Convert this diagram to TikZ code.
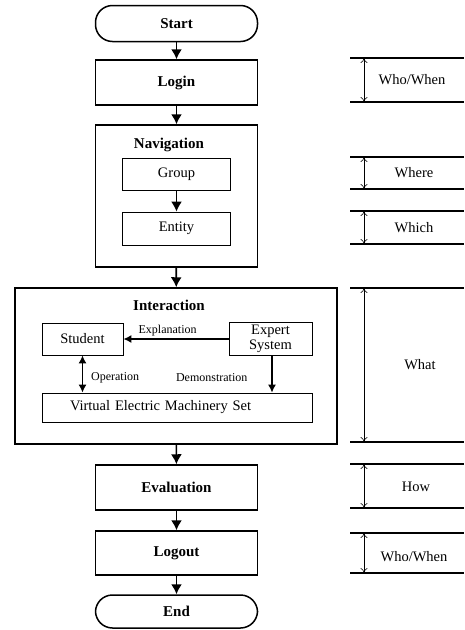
\documentclass[tikz,border=0pt]{standalone}
\usepackage{fontspec}
\setmainfont{Liberation Serif}
\usetikzlibrary{arrows.meta,positioning}
\tikzset{
  >={Latex[length=10pt,width=11pt]},
  bigfont/.style={font=\bfseries\fontsize{15}{17}\selectfont},
  terminal/.style={draw,line width=1.5pt,rounded corners=17pt,minimum width=162pt,minimum height=36pt,inner sep=0pt,bigfont},
  process/.style={draw,line width=1.5pt,minimum width=162pt,minimum height=45pt,inner sep=0pt,bigfont},
  frame/.style={draw,line width=1.5pt,inner sep=0pt},
  subbox/.style={draw,line width=0.9pt,inner sep=0pt,font=\fontsize{14.5}{15}\selectfont},
  caption/.style={bigfont},
  tag/.style={font=\fontsize{12}{14}\selectfont,inner sep=2pt},
  flow/.style={->,line width=1.6pt},
  link/.style={line width=1.2pt,>={Latex[length=8pt,width=8pt]}},
  rule/.style={line width=1.5pt},
  span/.style={line width=0.6pt,{To[length=5pt,width=7pt]}-{To[length=5pt,width=7pt]}},
  spantext/.style={font=\fontsize{14.5}{16}\selectfont},
}

\begin{document}
\begin{tikzpicture}[x=1pt,y=-1pt]
  \useasboundingbox (0,0) rectangle (464,630);

  \node[terminal] (start) at (176.5,23.5) {Start};
  \node[process] (login) at (176.5,82.5) {Login};
  \node[frame,minimum width=162pt,minimum height=142pt] (nav) at (176.5,196) {};
  \node[caption] (navcap) at (169,145) {Navigation};
  \node[subbox,minimum width=108pt,minimum height=32pt] (group) at (176.5,174) {Group};
  \node[subbox,minimum width=108pt,minimum height=33pt] (entity) at (176.5,228.5) {Entity};

  \node[frame,minimum width=322pt,minimum height=156pt] (inter) at (176,366) {};
  \node[caption] (intercap) at (169,305) {Interaction};
  \node[subbox,minimum width=81pt,minimum height=32pt] (student) at (82.5,339) {Student};
  \node[subbox,minimum width=83pt,minimum height=33pt,align=center] (expert) at (270.5,339) {Expert\\System};
  \node[subbox,minimum height=29pt,text width=214pt,inner xsep=28pt,align=left] (vems) at (177,407.5) {Virtual Electric Machinery Set};

  \node[process] (eval) at (176.5,487.5) {Evaluation};
  \node[process,minimum height=44pt] (logout) at (176.5,553) {Logout};
  \node[terminal,minimum height=33pt] (end) at (176.5,611.5) {End};

  \begin{scope}[flow]
    \draw (start) -- (login);
    \draw (login) -- (nav);
    \draw (group) -- (entity);
    \draw (nav) -- (inter);
    \draw (inter) -- (eval);
    \draw (eval) -- (logout);
    \draw (logout) -- (end);
  \end{scope}

  \begin{scope}[link]
    \draw[->] (expert.west) -- (student.east) node[tag,above,pos=0.58] (expl) {Explanation};
    \draw[<->] (student.south) -- (student.south |- vems.north) node[tag,right=6pt,pos=0.6] (oper) {Operation};
    \draw[->] ([xshift=1.5pt]expert.south) -- ([xshift=1.5pt]expert.south |- vems.north) node[tag,left=22pt,pos=0.6] (demo) {Demonstration};
  \end{scope}

  \foreach \n/\t/\b/\ty/\tx/\txt in {1/58/102/80/412/{Who/When}, 2/157/189/173/414/Where,
      3/211/244/228/414/Which, 4/288/442/365/420/What, 5/464/508/487/416/How, 6/533/573/557/414/{Who/When}}{
    \coordinate (hi\n) at (364,\t);
    \coordinate (lo\n) at (364,\b);
    \draw[rule] (350,\t) -- (464,\t) (350,\b) -- (464,\b);
    \draw[span] (hi\n) -- (lo\n);
    \node[spantext] (q\n) at (\tx,\ty) {\txt};
  }
\end{tikzpicture}
\end{document}
